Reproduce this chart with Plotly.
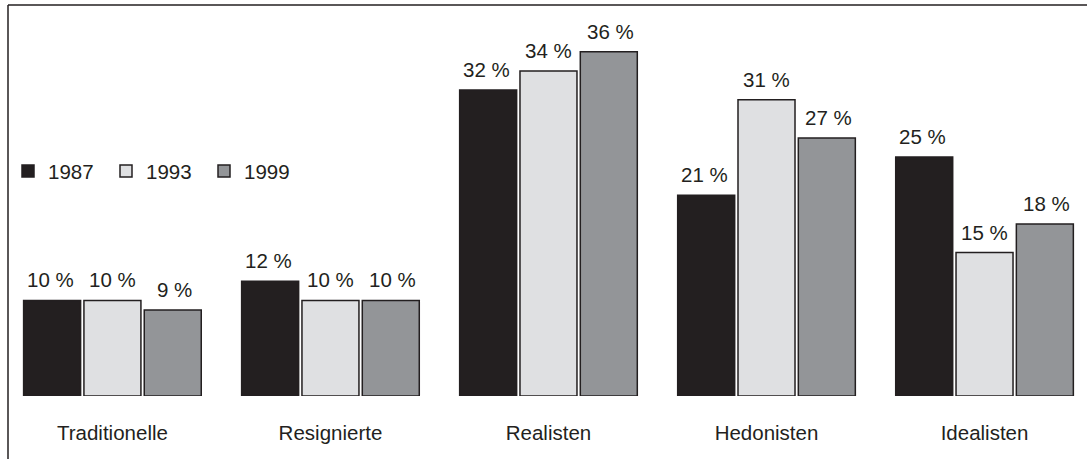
import plotly.graph_objects as go

categories = ["Traditionelle", "Resignierte", "Realisten", "Hedonisten", "Idealisten"]
years = ["1987", "1993", "1999"]
v1987 = [10, 12, 32, 21, 25]
v1993 = [10, 10, 34, 31, 15]
v1999 = [9, 10, 36, 27, 18]
series = [v1987, v1993, v1999]
colors = ["#231f20", "#dfe0e2", "#939598"]
ink = "#231f20"
FONT = "Liberation Sans, Arial, sans-serif"
FS = 20.5

fig = go.Figure()
for name, vals, col in zip(years, series, colors):
    fig.add_trace(go.Bar(
        x=categories, y=vals, name=name,
        marker=dict(color=col, line=dict(color=ink, width=1.5)),
    ))

# value labels
offsets = [-62, 0, 62]
for vals, dx in zip(series, offsets):
    for c, v in zip(categories, vals):
        fig.add_annotation(x=c, y=v, text=f"{v} %", showarrow=False,
                           xref="x", yref="y", xshift=dx, yanchor="bottom", yshift=7,
                           font=dict(family=FONT, size=FS, color=ink))

# frame lines (top and left)
fig.add_shape(type="line", xref="paper", yref="paper", x0=0, x1=1, y0=1, y1=1,
              line=dict(color=ink, width=1.5))
fig.add_shape(type="line", xref="paper", yref="paper", x0=0, x1=0, y0=1, y1=-0.2,
              line=dict(color=ink, width=1.5))

fig.update_layout(
    width=1087, height=459,
    margin=dict(l=8, r=0, t=5, b=63),
    paper_bgcolor="white", plot_bgcolor="white",
    barmode="group", bargap=0.17, bargroupgap=0.055,
    font=dict(family=FONT, size=FS, color=ink),
    showlegend=True,
    legend=dict(orientation="h", x=0.0, y=0.575, xanchor="left", yanchor="middle",
                entrywidth=53, entrywidthmode="pixels",
                font=dict(family=FONT, size=FS, color=ink),
                bgcolor="rgba(0,0,0,0)", traceorder="normal"),
    xaxis=dict(range=[-0.479, 4.47], showline=False, showgrid=False, zeroline=False,
               ticks="", ticklabelstandoff=22, tickfont=dict(family=FONT, size=FS, color=ink)),
    yaxis=dict(range=[0, 40.9], showline=False, showgrid=False, zeroline=False,
               showticklabels=False, ticks=""),
)

fig.write_html("out.html")
